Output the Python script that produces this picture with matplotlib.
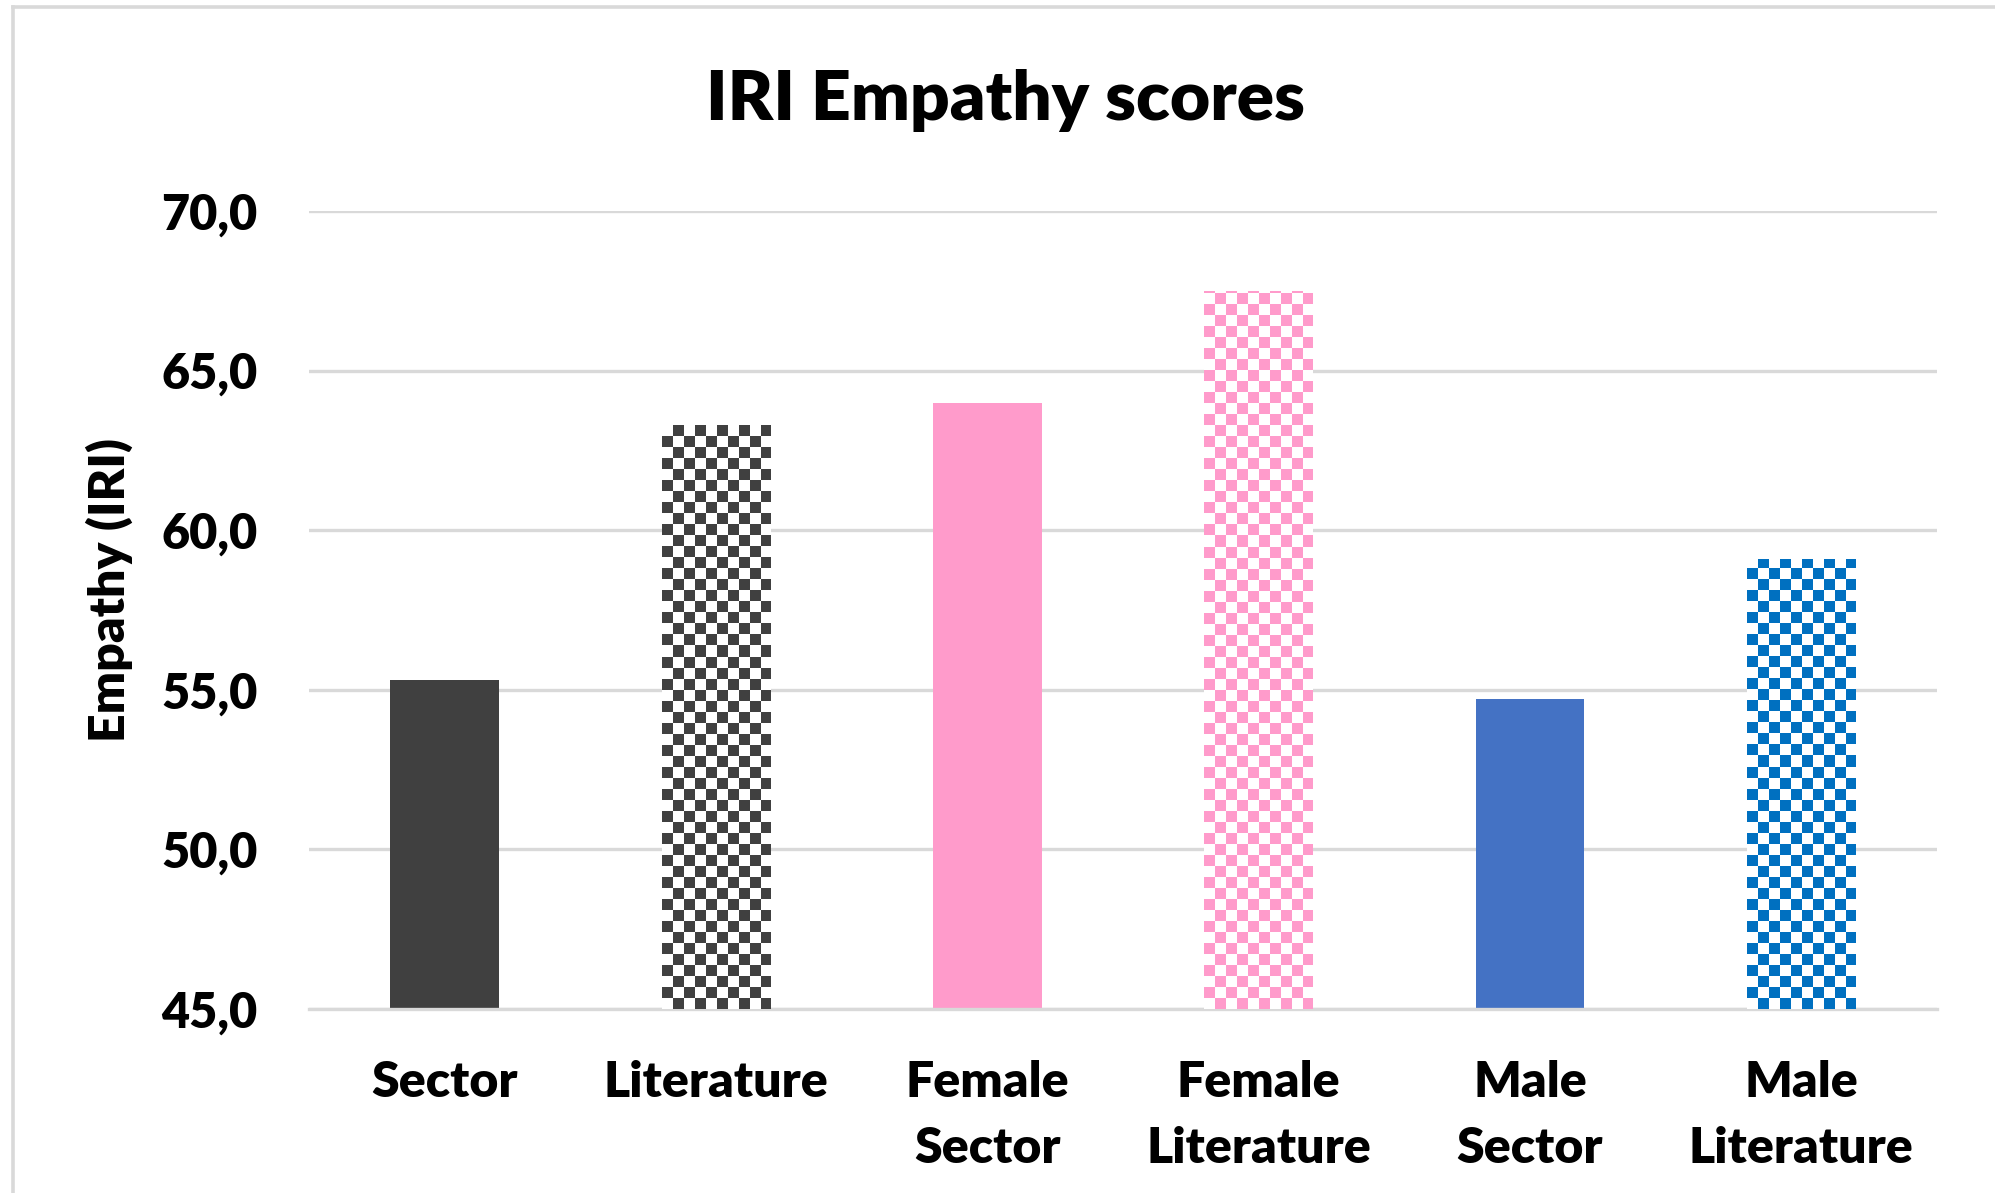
import numpy as np
import matplotlib
matplotlib.use("Agg")
import matplotlib.pyplot as plt
from matplotlib.colors import ListedColormap
from matplotlib.lines import Line2D

# IRI empathy scores per group
categories = ["Sector", "Literature", "Female\nSector", "Female\nLiterature",
              "Male\nSector", "Male\nLiterature"]
scores = [55.3, 63.3, 64.0, 67.5, 54.7, 59.1]
colors = ["#404040", "#404040", "#FF9BCB", "#FF9BCB", "#4472C4", "#0070C0"]
checkered = [False, True, False, True, False, True]
y_ticks = [45, 50, 55, 60, 65, 70]
y_ticklabels = ["45,0", "50,0", "55,0", "60,0", "65,0", "70,0"]

WEIGHT = "heavy"
plt.rcParams["font.family"] = ["Lato", "DejaVu Sans"]
plt.rcParams["font.weight"] = WEIGHT

W, H, DPI = 1995, 1193, 100
fig = plt.figure(figsize=(W / DPI, H / DPI), dpi=DPI)

# outer chart border (light grey, partly cut off)
fig.add_artist(Line2D([12.5 / W, 12.5 / W], [0, 1 - 6.5 / H], color="#D9D9D9", lw=2.6,
                      transform=fig.transFigure))
fig.add_artist(Line2D([12.5 / W, 1], [1 - 6.5 / H, 1 - 6.5 / H], color="#D9D9D9", lw=2.6,
                      transform=fig.transFigure))

left, right, bottom, top = 309, 1937, 1009, 211
ax = fig.add_axes([left / W, 1 - bottom / H, (right - left) / W, (bottom - top) / H])

x = np.arange(len(categories))
bar_w = 0.4
ymin, ymax = 45, 70
xmin, xmax = -0.5, len(categories) - 0.5

bars = ax.bar(x, [s - ymin for s in scores], bottom=ymin, width=bar_w,
              color=[("white" if c else col) for c, col in zip(checkered, colors)],
              zorder=2, linewidth=0)

# checker pattern for "Literature" bars
cell_px = 11
px_x = (right - left) / (xmax - xmin)
px_y = (bottom - top) / (ymax - ymin)
cx, cy = cell_px / px_x, cell_px / px_y
for b, chk, col, s in zip(bars, checkered, colors, scores):
    if not chk:
        continue
    x0 = b.get_x()
    nx = int(np.ceil(bar_w / cx)) + 1
    ny = int(np.ceil((s - ymin) / cy)) + 1
    ii, jj = np.indices((ny, nx))
    pattern = (ii + jj) % 2
    im = ax.imshow(pattern, cmap=ListedColormap(["white", col]), origin="lower",
                   extent=[x0, x0 + nx * cx, ymin, ymin + ny * cy],
                   aspect="auto", interpolation="nearest", zorder=3)
    im.set_clip_path(b)

ax.set_xlim(xmin, xmax)
ax.set_ylim(ymin, ymax)
ax.set_yticks(y_ticks)
ax.set_yticklabels(y_ticklabels)
ax.set_xticks(x)
ax.set_xticklabels(categories, linespacing=1.56)
ax.tick_params(axis="y", length=0, pad=37, labelsize=35)
ax.tick_params(axis="x", length=0, pad=37, labelsize=36)
for lab in ax.get_xticklabels() + ax.get_yticklabels():
    lab.set_fontweight(WEIGHT)

ax.grid(axis="y", color="#D9D9D9", linewidth=2.4, zorder=0)
ax.set_axisbelow(True)
for sp in ["top", "right", "left"]:
    ax.spines[sp].set_visible(False)
ax.spines["bottom"].set_color("#D9D9D9")
ax.spines["bottom"].set_linewidth(2.4)

fig.text(109 / W, 1 - 590 / H, "Empathy (IRI)", rotation=90, ha="center", va="center",
         fontsize=36, fontweight=WEIGHT)
fig.text(1005 / W, 1 - 101 / H, "IRI Empathy scores", ha="center", va="center",
         fontsize=50, fontweight=WEIGHT)

fig.savefig("out.png", dpi=DPI)
